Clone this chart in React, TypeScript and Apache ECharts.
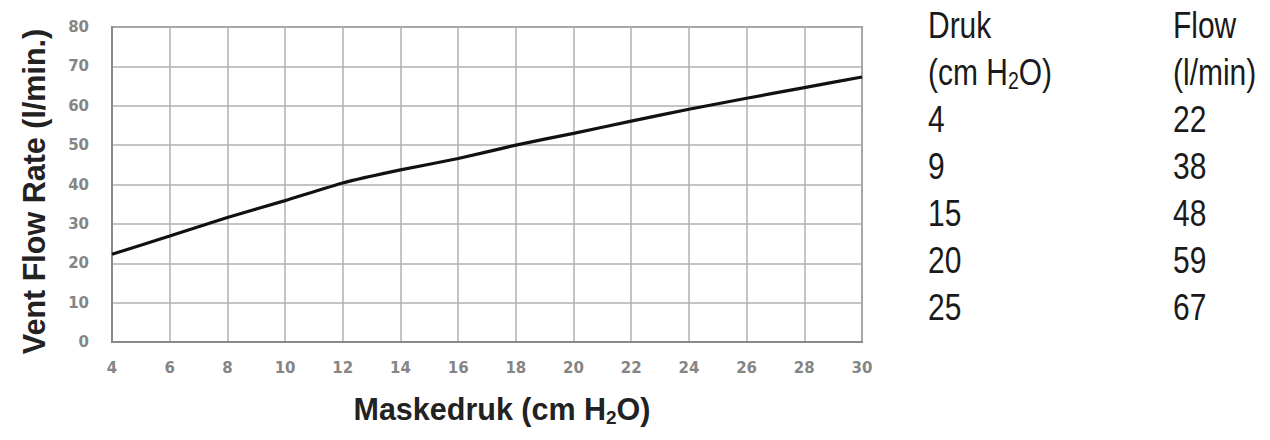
import React, { useEffect, useRef } from 'react';
import * as echarts from 'echarts';

// 曲线数据
const PRESSURE = [4, 6, 8, 10, 12, 14, 16, 18, 20, 22, 24, 26, 28, 30];
const FLOW = [22.3, 26.9, 31.6, 35.9, 40.4, 43.7, 46.6, 50, 53, 56.1, 59.1, 61.9, 64.6, 67.3];

// 右侧表格
const TABLE_DRUK = [4, 9, 15, 20, 25];
const TABLE_FLOW = [22, 38, 48, 59, 67];

const AXIS_FONT = "'Liberation Sans', Arial, sans-serif";
const TICK_FONT = "'DejaVu Sans', Verdana, sans-serif";
const TABLE_FONT = "'Liberation Sans', Arial, sans-serif";

const TABLE_SIZE = 37;
const ROW_TOP = 25;
const ROW_STEP = 47;
const COL_DRUK = 928;
const COL_FLOW = 1173;

const tableRich = {
  n: { fontSize: TABLE_SIZE, fontFamily: TABLE_FONT, fill: '#1a1a1a', lineHeight: 42 },
  s: { fontSize: 24, fontFamily: TABLE_FONT, fill: '#1a1a1a', lineHeight: 28, verticalAlign: 'bottom' },
};

// 窄体字：用 scaleX 压缩
const cell = (x: number, row: number, text: string) => ({
  type: 'text',
  x,
  y: ROW_TOP + row * ROW_STEP,
  scaleX: 0.81,
  silent: true,
  style: {
    text,
    rich: tableRich,
    fontSize: TABLE_SIZE,
    fontFamily: TABLE_FONT,
    fill: '#1a1a1a',
    align: 'left',
    verticalAlign: 'middle',
  },
});

export default function App() {
  const chartRef = useRef<HTMLDivElement>(null);

  useEffect(() => {
    if (!chartRef.current) return;
    const chart = echarts.init(chartRef.current, null, { renderer: 'svg' });

    const tableItems = [
      cell(COL_DRUK, 0, '{n|Druk}'),
      cell(COL_DRUK, 1, '{n|(cm H}{s|2}{n|O)}'),
      cell(COL_FLOW, 0, '{n|Flow}'),
      cell(COL_FLOW, 1, '{n|(l/min)}'),
      ...TABLE_DRUK.map((v, i) => cell(COL_DRUK, i + 2, `{n|${v}}`)),
      ...TABLE_FLOW.map((v, i) => cell(COL_FLOW, i + 2, `{n|${v}}`)),
    ];

    chart.setOption({
      animation: false,
      backgroundColor: '#fff',
      grid: {
        left: 112,
        top: 27,
        width: 750,
        height: 315,
        show: true,
        borderColor: '#8a8a8a',
        borderWidth: 2,
      },
      xAxis: {
        type: 'value',
        min: 4,
        max: 30,
        interval: 2,
        name: '{b|Maskedruk (cm H}{s|2}{b|O)}',
        nameLocation: 'middle',
        nameGap: 49,
        nameTextStyle: {
          padding: [0, 0, 0, 30],
          rich: {
            b: { fontSize: 30.5, fontWeight: 'bold', fontFamily: AXIS_FONT, color: '#222', lineHeight: 36 },
            s: { fontSize: 19, fontWeight: 'bold', fontFamily: AXIS_FONT, color: '#222', lineHeight: 22, verticalAlign: 'bottom' },
          },
        },
        axisLine: { show: true, lineStyle: { color: '#8a8a8a', width: 2 } },
        axisTick: { show: false },
        axisLabel: { margin: 18, fontSize: 15, fontWeight: 'bold', color: '#858585', fontFamily: TICK_FONT },
        splitLine: { show: true, lineStyle: { color: '#b0b0b0', width: 1.5 } },
      },
      yAxis: {
        type: 'value',
        min: 0,
        max: 80,
        interval: 10,
        name: 'Vent Flow Rate (l/min.)',
        nameLocation: 'middle',
        nameGap: 63,
        nameTextStyle: {
          fontSize: 30.5,
          fontWeight: 'bold',
          fontFamily: AXIS_FONT,
          color: '#222',
          padding: [0, 14, 0, 0],
        },
        axisLine: { show: true, lineStyle: { color: '#8a8a8a', width: 2 } },
        axisTick: { show: false },
        axisLabel: { margin: 23, fontSize: 15, fontWeight: 'bold', color: '#858585', fontFamily: TICK_FONT },
        splitLine: { show: true, lineStyle: { color: '#b0b0b0', width: 1.5 } },
      },
      series: [
        {
          type: 'line',
          data: PRESSURE.map((p, i) => [p, FLOW[i]]),
          showSymbol: false,
          smooth: 0.15,
          lineStyle: { color: '#111', width: 3.2 },
        },
      ],
      graphic: tableItems,
    });

    return () => {
      chart.dispose();
    };
  }, []);

  return (
    <div
      ref={chartRef}
      style={{ position: 'absolute', left: 0, top: 0, width: 1270, height: 440 }}
    />
  );
}
